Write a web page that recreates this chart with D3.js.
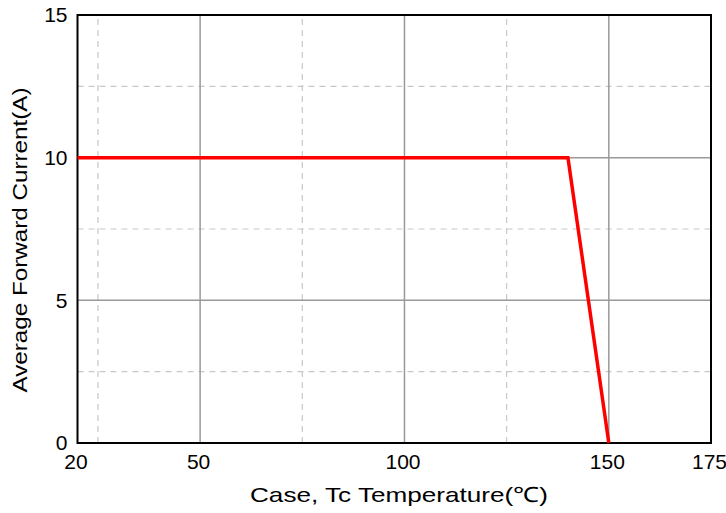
<!DOCTYPE html>
<html>
<head>
<meta charset="utf-8">
<script src="https://cdn.jsdelivr.net/npm/d3@7"></script>
<style>
  body { margin: 0; background: white; }
  text { font-family: "Liberation Sans", Arial, sans-serif; fill: #000; }
</style>
</head>
<body>
<div id="container"></div>
<script>
// data
var temps = [20, 140, 150];
var currents = [10, 10, 0];
var xTicks = [20, 50, 100, 150, 175];
var yTicks = [0, 5, 10, 15];
var xMinor = [25, 75, 125];
var yMinor = [2.5, 7.5, 12.5];

var w = 726, h = 513;
var margin = {left: 77.5, top: 15, right: 15, bottom: 70};

var svg = d3.select("#container").append("svg")
    .attr("width", w).attr("height", h);

var x = d3.scaleLinear().domain([20, 175]).range([margin.left, w - margin.right]);
var y = d3.scaleLinear().domain([0, 15]).range([h - margin.bottom, margin.top]);

// dashed minor grid
svg.append("g").selectAll("line")
  .data(xMinor).enter().append("line")
    .attr("x1", d => x(d)).attr("x2", d => x(d))
    .attr("y1", y(0)).attr("y2", y(15))
    .attr("stroke", "#c8c8c8").attr("stroke-width", 1.2)
    .attr("stroke-dasharray", "6,5");
svg.append("g").selectAll("line")
  .data(yMinor).enter().append("line")
    .attr("x1", x(20)).attr("x2", x(175))
    .attr("y1", d => y(d)).attr("y2", d => y(d))
    .attr("stroke", "#c8c8c8").attr("stroke-width", 1.2)
    .attr("stroke-dasharray", "6,5");

// solid major grid
svg.append("g").selectAll("line")
  .data(xTicks.slice(1, -1)).enter().append("line")
    .attr("x1", d => x(d)).attr("x2", d => x(d))
    .attr("y1", y(0)).attr("y2", y(15))
    .attr("stroke", "#999").attr("stroke-width", 1.5);
svg.append("g").selectAll("line")
  .data(yTicks.slice(1, -1)).enter().append("line")
    .attr("x1", x(20)).attr("x2", x(175))
    .attr("y1", d => y(d)).attr("y2", d => y(d))
    .attr("stroke", "#999").attr("stroke-width", 1.5);

// axes (labels only, no tick marks)
var xAxis = svg.append("g")
    .attr("transform", "translate(0," + y(0) + ")")
    .call(d3.axisBottom(x).tickValues(xTicks).tickSize(0).tickPadding(11).tickFormat(d3.format("d")));
xAxis.select(".domain").remove();
xAxis.selectAll("text").style("font-size", "21px").attr("dx", -2);

var yAxis = svg.append("g")
    .attr("transform", "translate(" + x(20) + ",0)")
    .call(d3.axisLeft(y).tickValues(yTicks).tickSize(0).tickPadding(10));
yAxis.select(".domain").remove();
yAxis.selectAll("text").style("font-size", "21px");

// plot border
svg.append("rect")
    .attr("x", x(20)).attr("y", y(15))
    .attr("width", x(175) - x(20)).attr("height", y(0) - y(15))
    .attr("fill", "none").attr("stroke", "#000").attr("stroke-width", 2);

// derating curve
var line = d3.line().x((d, i) => x(temps[i])).y(d => y(d));
svg.append("path")
    .datum(currents)
    .attr("d", line)
    .attr("fill", "none")
    .attr("stroke", "#ff0000")
    .attr("stroke-width", 3.5);

// axis titles
svg.append("text")
    .attr("x", 399).attr("y", 502)
    .attr("text-anchor", "middle")
    .attr("textLength", 298).attr("lengthAdjust", "spacingAndGlyphs")
    .style("font-size", "21px")
    .text("Case, Tc Temperature(℃)");

svg.append("text")
    .attr("transform", "translate(27,240) rotate(-90)")
    .attr("text-anchor", "middle")
    .attr("textLength", 305).attr("lengthAdjust", "spacingAndGlyphs")
    .style("font-size", "21px")
    .text("Average Forward Current(A)");
</script>
</body>
</html>
